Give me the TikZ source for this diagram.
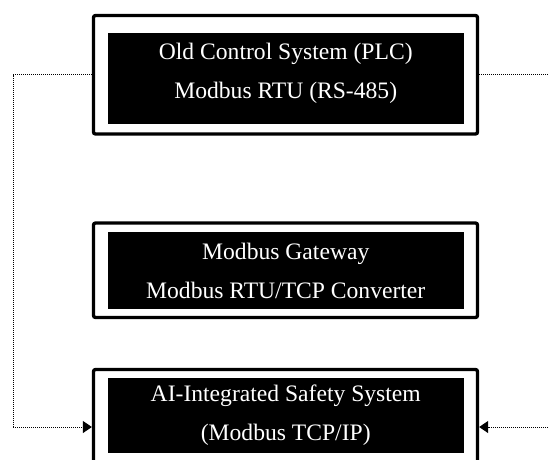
\documentclass[tikz,border=0pt]{standalone}
\usepackage{fontspec}
\setmainfont{Liberation Serif}
\usetikzlibrary{arrows.meta}

\begin{document}
\begin{tikzpicture}[x=1pt, y=-1pt,
    frame/.style={draw=black, line width=3.3pt, rounded corners=2pt, minimum width=384, inner sep=0},
    fillbox/.style={fill=black, text=white, minimum width=356.5, inner sep=0, align=center,
        font=\fontsize{23.6}{39}\selectfont},
    link/.style={densely dotted, line width=1pt, black},
    tip/.style={-{Triangle[length=9pt, width=12pt]}}]
    \useasboundingbox (0,0) rectangle (549,459);
    \clip (0,0) rectangle (549,459);

    \node[frame, minimum height=118.5] (plc) at (285.5,74.75) {};
    \node[frame, minimum height=94.5] (gateway) at (285.5,270.25) {};
    \node[frame, minimum height=93.5] (safety) at (285.5,416.25) {};

    \node[fillbox, minimum height=91, text depth=15pt] (plcin) at (285.75,78.5)
        {Old Control System (PLC)\\Modbus RTU (RS-485)};
    \node[fillbox, minimum height=77] (gatewayin) at (285.75,270.5)
        {Modbus Gateway\\Modbus RTU/TCP Converter};
    \node[fillbox, minimum height=75] (safetyin) at (285.75,415.5)
        {AI-Integrated Safety System\\(Modbus TCP/IP)};

    \coordinate (lcorner) at (13,427);
    \coordinate (redge) at (552,427);

    \draw[link] (plc.west) -| (lcorner);
    \draw[link, tip] (lcorner) -- (lcorner -| safety.west);
    \draw[link] (plc.east) -- (plc.east -| redge);
    \draw[link, tip] (redge) -- (redge -| safety.east);
\end{tikzpicture}
\end{document}
